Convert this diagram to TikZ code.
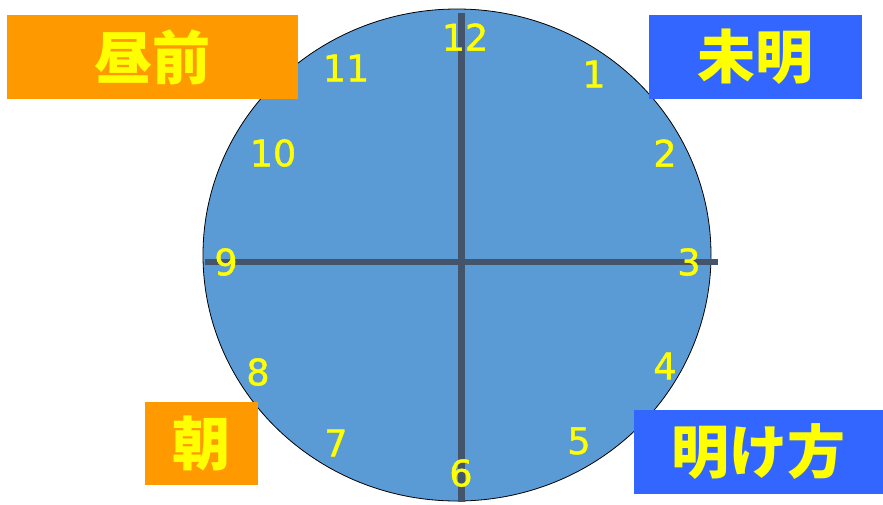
\documentclass[tikz,border=0pt]{standalone}
\usepackage{fontspec}
\setmainfont{DejaVu Sans}
\newfontfamily\hourfont[FakeBold=1.2]{DejaVu Sans}
\newfontfamily\cjk{Noto Sans CJK JP}
\usepackage{tikz}
\usetikzlibrary{positioning}
\definecolor{dialblue}{HTML}{5B9BD5}
\definecolor{handgray}{HTML}{44546A}
\definecolor{tagorange}{HTML}{FF9900}
\definecolor{tagblue}{HTML}{3366FF}
\definecolor{numyellow}{HTML}{FFFF00}

\begin{document}
\begin{tikzpicture}[x=1pt, y=-1pt,
    hand/.style={line width=6.5pt, color=handgray},
    hour/.style={inner sep=0pt, text=numyellow, font=\hourfont\fontsize{36.5}{36.5}\selectfont},
    tag/.style={inner sep=0pt, text=numyellow, font=\cjk\bfseries\fontsize{58}{58}\selectfont}]

  \useasboundingbox (0,0) rectangle (883,504);

  % ================= DIAL =================
  \fill[dialblue, draw=black, line width=0.8pt] (457,255) ellipse [x radius=254, y radius=246];

  % Cross lines
  \coordinate (west) at (205,262);
  \coordinate (east) at (718,262);
  \coordinate (north) at (461.5,13);
  \coordinate (south) at (461.5,502);
  \draw[hand] (west) -- (east);
  \draw[hand] (north) -- (south);

  % Hour numbers
  \node[hour] (h12) at (465,37) {12};
  \node[hour] (h1) at (594,74) {1};
  \node[hour] (h2) at (665,153) {2};
  \node[hour] (h3) at (689,262) {3};
  \node[hour] (h4) at (665,366) {4};
  \node[hour] (h5) at (579,441) {5};
  \node[hour] (h6) at (461,473) {6};
  \node[hour] (h7) at (336,443) {7};
  \node[hour] (h8) at (258,372) {8};
  \node[hour] (h9) at (226,262) {9};
  \node[hour] (h10) at (273,153) {10};
  \node[hour] (h11) at (346,68) {11};

  % ================= TIME-OF-DAY TAGS =================
  \node[tag, fill=tagorange, minimum width=291pt, minimum height=84pt] (hirumae) at (152.5,57) {昼前};
  \node[tag, fill=tagblue, minimum width=213pt, minimum height=84pt] (mimei) at (755.5,57) {未明};
  \node[tag, fill=tagorange, minimum width=113pt, minimum height=83pt] (asa) at (201.5,443.5) {朝};
  \node[tag, fill=tagblue, minimum width=249pt, minimum height=84pt] (akegata) at (758.5,452) {明け方};

\end{tikzpicture}
\end{document}
